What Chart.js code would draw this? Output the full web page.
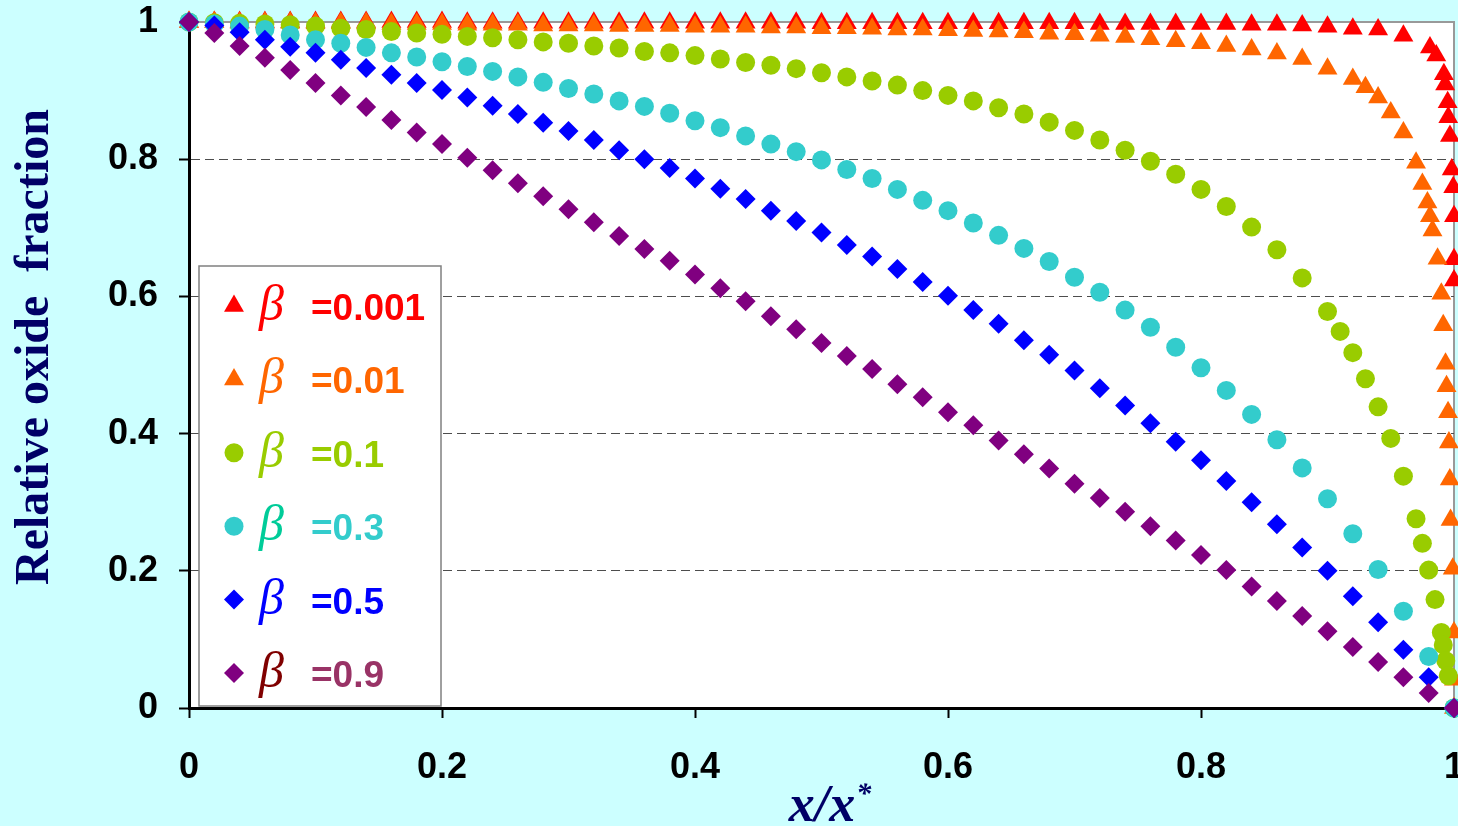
<!DOCTYPE html>
<html>
<head>
<meta charset="utf-8">
<title>Relative oxide fraction</title>
<script src="https://cdn.jsdelivr.net/npm/chart.js@4/dist/chart.umd.min.js"></script>
<style>
    html, body { margin: 0; padding: 0; background: #ccffff; }
    #oxideChart { display: block; }
</style>
</head>
<body>
<canvas id="oxideChart" width="1458" height="826"></canvas>
<script>
// x positions (x/x*) and relative oxide fraction
var xGrid = [0, 0.02, 0.04, 0.06, 0.08, 0.1, 0.12, 0.14, 0.16, 0.18, 0.2, 0.22, 0.24, 0.26, 0.28, 0.3, 0.32, 0.34, 0.36, 0.38,
    0.4, 0.42, 0.44, 0.46, 0.48, 0.5, 0.52, 0.54, 0.56, 0.58, 0.6, 0.62, 0.64, 0.66, 0.68, 0.7, 0.72, 0.74, 0.76, 0.78,
    0.8, 0.82, 0.84, 0.86, 0.88, 0.9, 0.92, 0.94, 0.96, 0.98, 1];

var xBeta0001 = [0, 0.02, 0.04, 0.06, 0.08, 0.1, 0.12, 0.14, 0.16, 0.18, 0.2, 0.22, 0.24, 0.26, 0.28, 0.3, 0.32, 0.34, 0.36, 0.38,
    0.4, 0.42, 0.44, 0.46, 0.48, 0.5, 0.52, 0.54, 0.56, 0.58, 0.6, 0.62, 0.64, 0.66, 0.68, 0.7, 0.72, 0.74, 0.76, 0.78,
    0.8, 0.82, 0.84, 0.86, 0.88, 0.9, 0.92, 0.94, 0.96,
    0.981, 0.986, 0.992, 0.993, 0.995, 0.9955, 0.9968, 0.9982, 0.9994, 1, 1, 1];
var yBeta0001 = [1, 1, 1, 1, 1, 1, 1, 1, 1, 1, 1, 0.999, 0.999, 0.999, 0.999, 0.999, 0.999, 0.999, 0.999, 0.999,
    0.999, 0.999, 0.999, 0.999, 0.999, 0.998, 0.998, 0.998, 0.998, 0.998, 0.998, 0.998, 0.998, 0.998, 0.998, 0.998, 0.997, 0.997, 0.997, 0.997,
    0.997, 0.997, 0.996, 0.996, 0.995, 0.993, 0.99, 0.989, 0.98,
    0.963, 0.951, 0.924, 0.909, 0.883, 0.861, 0.834, 0.785, 0.759, 0.717, 0.654, 0.623];

var xBeta001 = [0, 0.02, 0.04, 0.06, 0.08, 0.1, 0.12, 0.14, 0.16, 0.18, 0.2, 0.22, 0.24, 0.26, 0.28, 0.3, 0.32, 0.34, 0.36, 0.38,
    0.4, 0.42, 0.44, 0.46, 0.48, 0.5, 0.52, 0.54, 0.56, 0.58, 0.6, 0.62, 0.64, 0.66, 0.68, 0.7, 0.72, 0.74, 0.76, 0.78,
    0.8, 0.82, 0.84, 0.86, 0.88, 0.9,
    0.92, 0.93, 0.94, 0.95, 0.96, 0.97, 0.975, 0.979, 0.981, 0.983, 0.987, 0.99, 0.9915, 0.9933, 0.9941, 0.9953,
    0.996, 0.9967, 0.9973, 0.999, 1, 1, 1];
var yBeta001 = [1, 1, 0.999, 0.999, 0.999, 0.998, 0.998, 0.998, 0.997, 0.997, 0.997, 0.996, 0.996, 0.996, 0.995, 0.995, 0.995, 0.994, 0.994, 0.994,
    0.993, 0.993, 0.993, 0.992, 0.992, 0.991, 0.991, 0.99, 0.989, 0.989, 0.988, 0.987, 0.986, 0.985, 0.983, 0.982, 0.98, 0.978, 0.975, 0.972,
    0.969, 0.965, 0.96, 0.954, 0.946, 0.932,
    0.917, 0.905, 0.89, 0.868, 0.839, 0.795, 0.764, 0.737, 0.717, 0.696, 0.655, 0.604, 0.558, 0.502, 0.469, 0.431,
    0.387, 0.333, 0.274, 0.203, 0.11, 0.041, 0];

var xBeta01 = [0, 0.02, 0.04, 0.06, 0.08, 0.1, 0.12, 0.14, 0.16, 0.18, 0.2, 0.22, 0.24, 0.26, 0.28, 0.3, 0.32, 0.34, 0.36, 0.38,
    0.4, 0.42, 0.44, 0.46, 0.48, 0.5, 0.52, 0.54, 0.56, 0.58, 0.6, 0.62, 0.64, 0.66, 0.68, 0.7, 0.72, 0.74, 0.76, 0.78,
    0.8, 0.82, 0.84, 0.86, 0.88, 0.9,
    0.91, 0.92, 0.93, 0.94, 0.95, 0.96, 0.97, 0.975, 0.98, 0.985, 0.99, 0.9915, 0.9935, 0.9955, 1];
var yBeta01 = [1, 0.999, 0.998, 0.997, 0.996, 0.994, 0.991, 0.989, 0.986, 0.984, 0.982, 0.979, 0.977, 0.974, 0.971, 0.969, 0.965, 0.962, 0.957, 0.955,
    0.951, 0.946, 0.941, 0.937, 0.932, 0.926, 0.92, 0.914, 0.908, 0.9, 0.893, 0.885, 0.875, 0.866, 0.854, 0.842, 0.828, 0.813, 0.797, 0.778,
    0.756, 0.731, 0.701, 0.668, 0.627, 0.578,
    0.549, 0.518, 0.48, 0.439, 0.393, 0.338, 0.276, 0.24, 0.201, 0.158, 0.11, 0.092, 0.069, 0.047, 0];

var yBeta03 = [1, 0.997, 0.994, 0.989, 0.981, 0.974, 0.969, 0.963, 0.955, 0.949, 0.942, 0.935, 0.928, 0.92, 0.912, 0.903, 0.895, 0.885, 0.877, 0.867,
    0.856, 0.846, 0.834, 0.822, 0.811, 0.799, 0.785, 0.772, 0.756, 0.74, 0.725, 0.707, 0.689, 0.67, 0.651, 0.628, 0.606, 0.58, 0.555, 0.526,
    0.496, 0.463, 0.428, 0.391, 0.35, 0.305, 0.254, 0.202, 0.141, 0.075, 0];

var yBeta05 = [1, 0.995, 0.985, 0.974, 0.964, 0.955, 0.945, 0.933, 0.923, 0.911, 0.901, 0.89, 0.878, 0.866, 0.853, 0.841, 0.828, 0.813, 0.8, 0.787,
    0.772, 0.757, 0.742, 0.725, 0.71, 0.693, 0.675, 0.658, 0.64, 0.621, 0.601, 0.58, 0.56, 0.536, 0.515, 0.492, 0.466, 0.441, 0.415, 0.388,
    0.361, 0.331, 0.3, 0.268, 0.234, 0.2, 0.163, 0.125, 0.085, 0.045, 0];

var yBeta09 = [1, 0.984, 0.965, 0.948, 0.93, 0.911, 0.893, 0.876, 0.857, 0.839, 0.822, 0.802, 0.784, 0.765, 0.746, 0.727, 0.708, 0.688, 0.669, 0.652,
    0.632, 0.612, 0.593, 0.571, 0.552, 0.532, 0.513, 0.494, 0.472, 0.453, 0.431, 0.412, 0.39, 0.37, 0.349, 0.327, 0.306, 0.286, 0.265, 0.244,
    0.223, 0.201, 0.177, 0.156, 0.134, 0.112, 0.089, 0.067, 0.045, 0.022, 0];

var seriesLabels = ['=0.001', '=0.01', '=0.1', '=0.3', '=0.5', '=0.9'];
var axisTicks = [0, 0.2, 0.4, 0.6, 0.8, 1];
var axisTickLabels = ['0', '0.2', '0.4', '0.6', '0.8', '1'];

(function () {
    'use strict';

    var markerColors = ['#ff0000', '#ff6600', '#99cc00', '#33cccc', '#0000ff', '#800080'];
    var betaColors = ['#ff0000', '#ff6600', '#99cc00', '#00cc99', '#0000ff', '#800000'];
    var labelColors = ['#ff0000', '#ff6600', '#99cc00', '#33cccc', '#0000ff', '#993366'];
    var markerStyles = ['triangle', 'triangle', 'circle', 'circle', 'rectRot', 'rectRot'];
    var markerSizes = [11.5, 11.5, 9.5, 9.5, 10, 10];

    var seriesX = [xBeta0001, xBeta001, xBeta01, xGrid, xGrid, xGrid];
    var seriesY = [yBeta0001, yBeta001, yBeta01, yBeta03, yBeta05, yBeta09];

    function pairUp(xs, ys) {
        return ys.map(function (y, i) { return { x: xs[i], y: y }; });
    }

    function tickText(value) {
        var i = axisTicks.indexOf(Math.round(value * 10) / 10);
        return i >= 0 ? axisTickLabels[i] : '';
    }

    var datasets = seriesY.map(function (ys, i) {
        return {
            label: seriesLabels[i],
            data: pairUp(seriesX[i], ys),
            showLine: false,
            pointStyle: markerStyles[i],
            pointRadius: markerSizes[i],
            pointHoverRadius: markerSizes[i],
            pointBorderWidth: 0,
            backgroundColor: markerColors[i],
            borderColor: markerColors[i],
            clip: false,
            order: 6 - i
        };
    });

    var plotBackground = {
        id: 'plotBackground',
        beforeDraw: function (chart) {
            var ctx = chart.ctx, a = chart.chartArea;
            ctx.save();
            ctx.fillStyle = '#ccffff';
            ctx.fillRect(0, 0, chart.width, chart.height);
            ctx.fillStyle = '#ffffff';
            ctx.fillRect(a.left, a.top, a.right - a.left, a.bottom - a.top);
            ctx.strokeStyle = '#999999';
            ctx.lineWidth = 2;
            ctx.beginPath();
            ctx.moveTo(a.left, a.top);
            ctx.lineTo(a.right, a.top);
            ctx.lineTo(a.right, a.bottom);
            ctx.stroke();
            ctx.restore();
        }
    };

    // x/x* with a raised asterisk, centred under the plot
    var xTitle = {
        id: 'xTitle',
        afterDraw: function (chart) {
            var ctx = chart.ctx, a = chart.chartArea;
            var main = 'x/x', star = '*';
            ctx.save();
            ctx.fillStyle = '#000066';
            ctx.textBaseline = 'alphabetic';
            ctx.textAlign = 'left';
            ctx.font = 'italic bold 52px "Liberation Serif"';
            var w1 = ctx.measureText(main).width;
            ctx.font = 'italic bold 30px "Liberation Serif"';
            var w2 = ctx.measureText(star).width;
            var x0 = (a.left + a.right) / 2 + 8 - (w1 + w2) / 2;
            ctx.font = 'italic bold 52px "Liberation Serif"';
            ctx.fillText(main, x0, 821);
            ctx.font = 'italic bold 30px "Liberation Serif"';
            ctx.fillText(star, x0 + w1 + 1, 803);
            ctx.restore();
        }
    };

    function drawMarker(ctx, style, r, x, y) {
        if (window.Chart && Chart.helpers && Chart.helpers.drawPoint) {
            Chart.helpers.drawPoint(ctx, { pointStyle: style, rotation: 0, radius: r, borderWidth: 0 }, x, y);
            return;
        }
        ctx.beginPath();
        ctx.arc(x, y, r, 0, Math.PI * 2);
        ctx.fill();
    }

    var betaLegend = {
        id: 'betaLegend',
        afterDraw: function (chart) {
            var ctx = chart.ctx, a = chart.chartArea;
            var left = a.left + 10;
            var right = chart.scales.x.getPixelForValue(0.2) - 1;
            var top = 266;
            var bottom = a.bottom - 2;
            ctx.save();
            ctx.fillStyle = '#ffffff';
            ctx.fillRect(left, top, right - left, bottom - top);
            ctx.strokeStyle = '#808080';
            ctx.lineWidth = 1.5;
            ctx.strokeRect(left, top, right - left, bottom - top);

            chart.data.datasets.forEach(function (ds, i) {
                var cy = top + 40 + i * 73.4;
                ctx.fillStyle = ds.backgroundColor;
                drawMarker(ctx, ds.pointStyle, ds.pointRadius, left + 35, cy);

                ctx.textBaseline = 'alphabetic';
                ctx.textAlign = 'left';
                ctx.font = 'italic 50px "Liberation Serif"';
                ctx.fillStyle = betaColors[i];
                ctx.fillText('\u03b2', left + 60, cy + 14);

                ctx.font = 'bold 37px "Liberation Sans"';
                ctx.fillStyle = labelColors[i];
                ctx.fillText(seriesLabels[i], left + 112, cy + 14);
            });
            ctx.restore();
        }
    };

    var tickFont = { family: '"Liberation Sans"', size: 36, weight: 'bold' };

    new Chart(document.getElementById('oxideChart'), {
        type: 'scatter',
        data: { datasets: datasets },
        options: {
            responsive: false,
            animation: false,
            devicePixelRatio: 1,
            events: [],
            layout: { autoPadding: false, padding: { top: 22, right: 4, left: 0, bottom: 0 } },
            plugins: {
                legend: { display: false },
                tooltip: { enabled: false }
            },
            scales: {
                x: {
                    type: 'linear',
                    min: 0,
                    max: 1,
                    afterBuildTicks: function (scale) {
                        scale.ticks = axisTicks.map(function (v) { return { value: v }; });
                    },
                    ticks: {
                        font: tickFont,
                        color: '#000000',
                        padding: 28,
                        maxRotation: 0,
                        autoSkip: false,
                        callback: tickText
                    },
                    grid: {
                        drawOnChartArea: false,
                        tickLength: 10,
                        tickWidth: 2,
                        tickColor: '#000000'
                    },
                    border: { display: true, color: '#000000', width: 3 },
                    afterFit: function (scale) {
                        scale.height = 118;
                        scale.paddingLeft = 0;
                        scale.paddingRight = 0;
                    }
                },
                y: {
                    type: 'linear',
                    min: 0,
                    max: 1,
                    afterBuildTicks: function (scale) {
                        scale.ticks = axisTicks.map(function (v) { return { value: v }; });
                    },
                    ticks: {
                        font: tickFont,
                        color: '#000000',
                        padding: 21,
                        callback: tickText
                    },
                    grid: {
                        color: function (c) {
                            var v = c.tick ? c.tick.value : 0;
                            return (v > 0.01 && v < 0.99) ? '#4d4d4d' : 'rgba(0,0,0,0)';
                        },
                        lineWidth: 1,
                        tickLength: 10,
                        tickWidth: 2,
                        tickColor: '#000000'
                    },
                    border: { display: true, color: '#000000', width: 3, dash: [9, 5] },
                    title: {
                        display: true,
                        text: '   Relative oxide  fraction',
                        color: '#000066',
                        font: { family: '"Liberation Serif"', size: 48, weight: 'bold', lineHeight: 1 },
                        padding: { top: 12, bottom: 0 }
                    },
                    afterFit: function (scale) {
                        scale.width = 189;
                        scale.paddingTop = 0;
                        scale.paddingBottom = 0;
                    }
                }
            }
        },
        plugins: [plotBackground, betaLegend, xTitle]
    });
})();
</script>
</body>
</html>
